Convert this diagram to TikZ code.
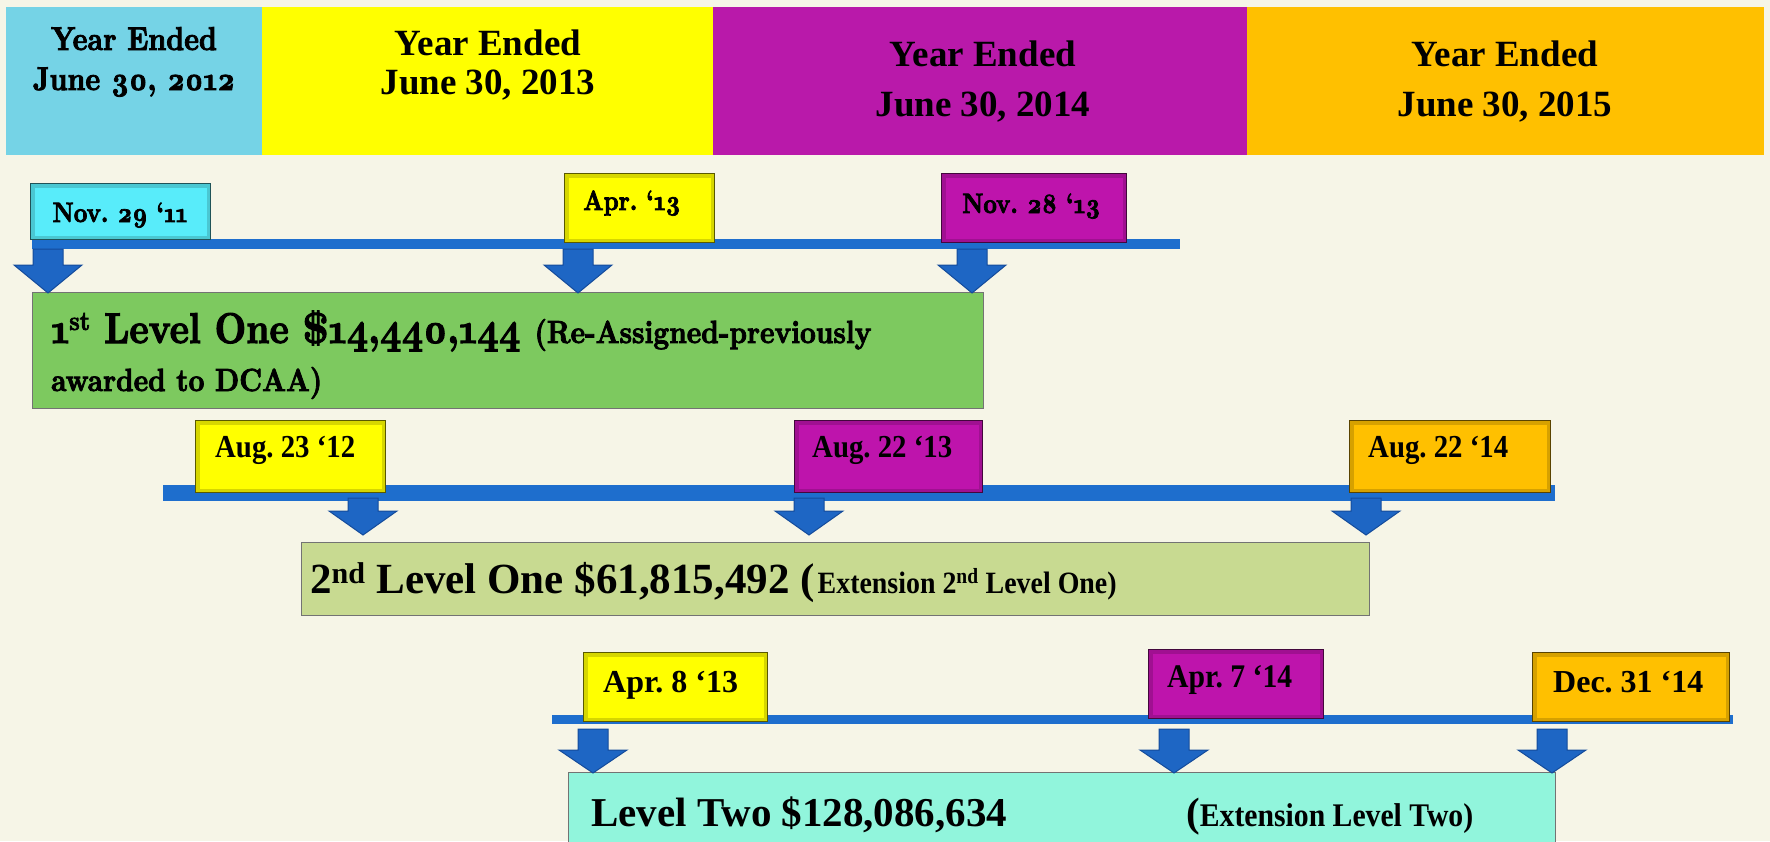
\documentclass[tikz,border=0pt]{standalone}
\usepackage{fontspec}
\newfontfamily\tnr{Liberation Serif}
\newfontfamily\tnrc{Liberation Serif}[FakeStretch=0.9]
\font\palH="[lmroman10-bold]:+onum;extend=0.85;embolden=2.5" at 33pt
\font\palD="[lmroman10-bold]:+onum;extend=0.84;embolden=2.5" at 28pt
\font\palB="[lmroman10-bold]:+onum;extend=0.85;embolden=2.5" at 43pt
\font\palS="[lmroman10-bold]:+onum;extend=0.86;embolden=2.5" at 32pt
\font\palU="[lmroman10-bold]:+onum;extend=0.86;embolden=2.5" at 27pt
\newcommand\tnrsz[1]{\tnr\bfseries\fontsize{#1}{#1}\selectfont}
\newcommand\tnrcsz[1]{\tnrc\bfseries\fontsize{#1}{#1}\selectfont}
\definecolor{bg}{RGB}{246,245,231}
\definecolor{hcyan}{RGB}{117,211,230}
\definecolor{hyellow}{RGB}{255,255,0}
\definecolor{hmag}{RGB}{185,25,170}
\definecolor{horange}{RGB}{255,192,0}
\definecolor{dcyan}{RGB}{88,236,250}
\definecolor{dyellow}{RGB}{255,255,0}
\definecolor{dmag}{RGB}{190,20,172}
\definecolor{dorange}{RGB}{255,192,0}
\definecolor{tlinecol}{RGB}{30,110,205}
\definecolor{arrowblue}{RGB}{30,102,196}
\definecolor{arrowedge}{RGB}{20,75,155}
\definecolor{greenA}{RGB}{125,201,95}
\definecolor{greenB}{RGB}{200,218,145}
\definecolor{aqua}{RGB}{145,245,220}
\newcommand\barrow[3]{%
  \draw[blockarrow] (#1) -- ++(-34,-#2) -- ++(19,0) -- ++(0,-#3) -- ++(30,0) -- ++(0,#3) -- ++(19,0) -- cycle;}
\frenchspacing
\begin{document}
\begin{tikzpicture}[x=1pt,y=-1pt,
  hband/.style={rectangle, fill=#1, draw=none, anchor=north west, inner sep=0pt, outer sep=0pt},
  datebox/.style={rectangle, fill=#1, draw=#1!35!black, line width=1.3pt, anchor=north west, inner sep=0pt,
    path picture={\draw[#1!55!black, line width=8pt, opacity=0.35]
      (path picture bounding box.south west) rectangle (path picture bounding box.north east);}},
  bigbox/.style={rectangle, fill=#1, draw=black!55, line width=1.4pt, anchor=north west, inner sep=0pt},
  txt/.style={anchor=base, inner sep=0pt, text=black},
  txtw/.style={anchor=base west, inner sep=0pt, text=black},
  blockarrow/.style={fill=arrowblue, draw=arrowedge, line width=1pt, line join=miter},
  tbar/.style={fill=tlinecol}]
\path[use as bounding box] (0,0) rectangle (1770,841);
\clip (0,0) rectangle (1770,841);
\fill[bg] (0,0) rectangle (1770,841);

% header bands
\node[hband=hcyan, minimum width=256, minimum height=148] (h12) at (6,7) {};
\node[hband=hyellow, minimum width=451, minimum height=148] (h13) at (262,7) {};
\node[hband=hmag, minimum width=534, minimum height=148] (h14) at (713,7) {};
\node[hband=horange, minimum width=517, minimum height=148] (h15) at (1247,7) {};
\node[txt, font=\palH] (t12a) at (134,50) {Year Ended};
\node[txt, font=\palH] (t12b) at (134,90) {June 30, 2012};
\node[txt, font=\tnrsz{37}] (t13a) at (488,55) {Year Ended};
\node[txt, font=\tnrsz{37}] (t13b) at (488,94) {June 30, 2013};
\node[txt, font=\tnrsz{37}] (t14a) at (983,66) {Year Ended};
\node[txt, font=\tnrsz{37}] (t14b) at (983,116) {June 30, 2014};
\node[txt, font=\tnrsz{37}] (t15a) at (1505,66) {Year Ended};
\node[txt, font=\tnrsz{37}] (t15b) at (1505,116) {June 30, 2015};

% ---- timeline 1
\fill[tbar] (32,239) rectangle (1180,249);
\coordinate (a11) at (48,293);
\coordinate (a12) at (578,293);
\coordinate (a13) at (972,293);
\node[bigbox=greenA, minimum width=951, minimum height=116] (L1) at (32,292) {};
\barrow{a11}{28}{16}
\barrow{a12}{28}{16}
\barrow{a13}{28}{16}
\node[datebox=dcyan, minimum width=180, minimum height=56] (d11) at (30,183) {};
\node[datebox=dyellow, minimum width=150, minimum height=69] (d12) at (564,173) {};
\node[datebox=dmag, minimum width=185, minimum height=69] (d13) at (941,173) {};
\node[txt, font=\palD] (l11) at (120,222) {Nov. 29 ‘11};
\node[txtw, font=\palD] (l12) at (583,210) {Apr. ‘13};
\node[txtw, font=\palD] (l13) at (962,213) {Nov. 28 ‘13};
\node[txtw] (L1a) at (51,343) {\palB 1\raisebox{13pt}{\palU st} Level One \$14,440,144 {\palS (Re-Assigned-previously}};
\node[txtw, font=\palS] (L1b) at (51,391) {awarded to DCAA)};

% ---- timeline 2
\fill[tbar] (163,485) rectangle (1555,501);
\coordinate (a21) at (363,535);
\coordinate (a22) at (809,535);
\coordinate (a23) at (1366,535);
\node[bigbox=greenB, minimum width=1068, minimum height=73] (L2) at (301,542) {};
\barrow{a21}{24}{13}
\barrow{a22}{24}{13}
\barrow{a23}{24}{13}
\node[datebox=dyellow, minimum width=190, minimum height=72] (d21) at (195,420) {};
\node[datebox=dmag, minimum width=188, minimum height=72] (d22) at (794,420) {};
\node[datebox=dorange, minimum width=201, minimum height=72] (d23) at (1349,420) {};
\node[txtw, font=\tnrcsz{32}] (l21) at (215,457) {Aug. 23 ‘12};
\node[txtw, font=\tnrcsz{32}] (l22) at (812,457) {Aug. 22 ‘13};
\node[txtw, font=\tnrcsz{32}] (l23) at (1368,457) {Aug. 22 ‘14};
\node[txtw, font=\tnrsz{43}] (L2a) at (310,593) {2\textsuperscript{nd} Level One \$61,815,492 ({\tnrcsz{31}\hspace{3pt}Extension 2\textsuperscript{nd} Level One)}};

% ---- timeline 3
\fill[tbar] (552,715) rectangle (1733,724);
\coordinate (a31) at (593,773);
\coordinate (a32) at (1174,773);
\coordinate (a33) at (1552,773);
\node[bigbox=aqua, minimum width=987, minimum height=90] (L3) at (568,772) {};
\barrow{a31}{23}{21}
\barrow{a32}{23}{21}
\barrow{a33}{23}{21}
\node[datebox=dyellow, minimum width=184, minimum height=69] (d31) at (583,652) {};
\node[datebox=dmag, minimum width=175, minimum height=69] (d32) at (1148,649) {};
\node[datebox=dorange, minimum width=197, minimum height=69] (d33) at (1532,652) {};
\node[txtw, font=\tnrsz{32}] (l31) at (603,692) {Apr. 8 ‘13};
\node[txtw, font=\tnrcsz{33}] (l32) at (1167,687) {Apr. 7 ‘14};
\node[txtw, font=\tnrsz{32}] (l33) at (1553,692) {Dec. 31 ‘14};
\node[txtw, font=\tnrsz{41}] (L3a) at (591,826) {Level Two \$128,086,634};
\node[txtw, font=\tnrsz{41}] (L3b) at (1186,826) {({\tnrcsz{33}Extension Level Two)}};
\end{tikzpicture}
\end{document}
